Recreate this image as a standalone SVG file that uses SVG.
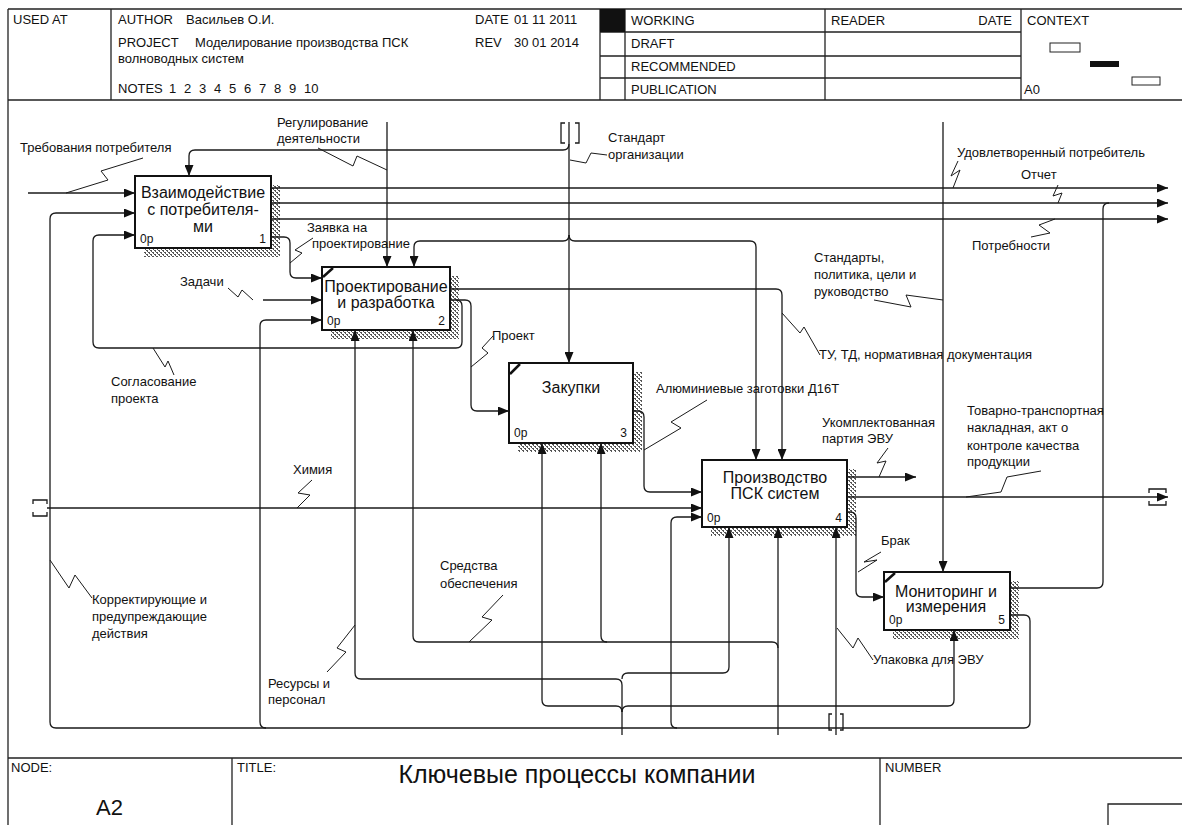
<svg xmlns="http://www.w3.org/2000/svg" width="1182" height="825" viewBox="0 0 1182 825">
<style>
text{font-family:"Liberation Sans",Arial,sans-serif;fill:#111}
.hd{font-size:13px}
.ft{font-size:13px}
.lbl{font-size:13px}
.bt{font-size:16px;text-anchor:middle}
.bt1{font-size:16px;text-anchor:middle}
.num{font-size:12px}
.fr{fill:none;stroke:#222;stroke-width:1.3}
.box{fill:#fff;stroke:#111;stroke-width:2}
.sh{fill:url(#hatch)}
.diag{stroke:#111;stroke-width:2.5}
.c{fill:none;stroke:#1a1a1a;stroke-width:1.3}
.a{marker-end:url(#ah)}
.sq{fill:none;stroke:#1a1a1a;stroke-width:1}
.tn{fill:none;stroke:#1a1a1a;stroke-width:1.3}
</style>
<defs>
<marker id="ah" markerWidth="12" markerHeight="9" refX="11" refY="4.5" orient="auto" markerUnits="userSpaceOnUse"><path d="M0,0 L11,4.5 L0,9 z" fill="#111"/></marker>
<pattern id="hatch" width="4" height="4" patternUnits="userSpaceOnUse"><rect width="4" height="4" fill="#fff"/><path d="M0,0h2v1h-2zM2,2h2v1h-2zM1,1h1v1h-1zM3,3h1v1h-1z" fill="#555"/></pattern>
</defs>
<rect width="1182" height="825" fill="#fff"/>

<g id="frame">
<path class="fr" d="M8,9 H1182 M8,9 V825 M8,100 H1182 M111,9 V100 M600,9 V100 M625,9 V100 M825,9 V100 M1021,9 V100 M600,32 H1021 M600,56 H1021 M600,78 H1021"/>
<rect x="600" y="9" width="25" height="23" fill="#111"/>
<rect x="1050" y="43" width="30" height="9" fill="#fff" stroke="#222" stroke-width="1"/>
<rect x="1090" y="61" width="29" height="6" fill="#111"/>
<rect x="1132" y="77" width="28" height="8" fill="#fff" stroke="#222" stroke-width="1"/>
<text class="hd" x="13" y="24">USED AT</text>
<text class="hd" x="118" y="24">AUTHOR</text>
<text class="hd" x="186" y="24">Васильев О.И.</text>
<text class="hd" x="475" y="24">DATE</text>
<text class="hd" x="514" y="24">01 11 2011</text>
<text class="hd" x="118" y="47">PROJECT</text>
<text class="hd" x="195" y="47">Моделирование производства ПСК</text>
<text class="hd" x="475" y="47">REV</text>
<text class="hd" x="514" y="47">30 01 2014</text>
<text class="hd" x="118" y="63">волноводных систем</text>
<text class="hd" x="118" y="93">NOTES</text>
<text class="hd" y="93"><tspan x="169">1</tspan><tspan x="184">2</tspan><tspan x="199">3</tspan><tspan x="214">4</tspan><tspan x="229">5</tspan><tspan x="244">6</tspan><tspan x="259">7</tspan><tspan x="274">8</tspan><tspan x="289">9</tspan><tspan x="304">10</tspan></text>
<text class="hd" x="631" y="25">WORKING</text>
<text class="hd" x="631" y="48">DRAFT</text>
<text class="hd" x="631" y="71">RECOMMENDED</text>
<text class="hd" x="631" y="94">PUBLICATION</text>
<text class="hd" x="831" y="25">READER</text>
<text class="hd" x="1012" y="25" text-anchor="end">DATE</text>
<text class="hd" x="1027" y="25">CONTEXT</text>
<text class="hd" x="1024" y="94">A0</text>
<path class="fr" d="M8,758 H1182 M232,758 V825 M880,758 V825 M1108,825 V804 H1182"/>
<text class="ft" x="11" y="772">NODE:</text>
<text class="ft" x="237" y="772">TITLE:</text>
<text class="ft" x="885" y="772">NUMBER</text>
<text x="577" y="783" font-size="25" text-anchor="middle">Ключевые процессы компании</text>
<text x="96" y="815" font-size="22">A2</text>
</g>

<g id="node1">
<rect class="sh" x="144" y="185" width="136" height="72"/>
<rect class="box" x="135" y="176" width="136" height="72"/>
<text class="bt1" x="203" y="198">Взаимодействие</text>
<text class="bt1" x="203" y="215">с потребителя-</text>
<text class="bt1" x="203" y="232">ми</text>
<text class="num" x="140" y="243">0p</text>
<text class="num" x="266" y="243" text-anchor="end">1</text>
</g>
<g id="node2">
<rect class="sh" x="331" y="276" width="128" height="63"/>
<rect class="box" x="322" y="267" width="128" height="63"/>
<line class="diag" x1="323" y1="277" x2="333" y2="268"/>
<text class="bt" x="386" y="292">Проектирование</text>
<text class="bt" x="386" y="308">и разработка</text>
<text class="num" x="327" y="325">0p</text>
<text class="num" x="445" y="325" text-anchor="end">2</text>
</g>
<g id="node3">
<rect class="sh" x="518" y="372" width="124" height="80"/>
<rect class="box" x="509" y="363" width="124" height="80"/>
<line class="diag" x1="510" y1="374" x2="520" y2="364"/>
<text class="bt" x="571" y="393">Закупки</text>
<text class="num" x="514" y="437">0p</text>
<text class="num" x="627" y="437" text-anchor="end">3</text>
</g>
<g id="node4">
<rect class="sh" x="711" y="469" width="145" height="67"/>
<rect class="box" x="702" y="460" width="145" height="67"/>
<text class="bt" x="775" y="483">Производство</text>
<text class="bt" x="775" y="499">ПСК систем</text>
<text class="num" x="707" y="522">0p</text>
<text class="num" x="842" y="522" text-anchor="end">4</text>
</g>
<g id="node5">
<rect class="sh" x="893" y="581" width="126" height="58"/>
<rect class="box" x="884" y="572" width="126" height="58"/>
<line class="diag" x1="885" y1="582" x2="895" y2="573"/>
<text class="bt" x="946" y="597">Мониторинг и</text>
<text class="bt" x="946" y="612">измерения</text>
<text class="num" x="889" y="624">0p</text>
<text class="num" x="1005" y="624" text-anchor="end">5</text>
</g>

<g id="connectors">
<path class="c a" d="M28,193 H135"/>
<path class="c a" d="M569,144 Q569,150 563,150 H195 Q189,150 189,156 V176"/>
<path class="c a" d="M569,122 V363"/>
<path class="c a" d="M569,235 Q569,241 563,241 H420 Q414,241 414,247 V267"/>
<path class="c a" d="M569,235 Q569,241 575,241 H750 Q756,241 756,247 V460"/>
<path class="c a" d="M387,122 V267"/>
<path class="c a" d="M271,188 H1168"/>
<path class="c a" d="M271,203 H1168"/>
<path class="c a" d="M271,219 H1168"/>
<path class="c" d="M1010,588 H1097 Q1103,588 1103,582 V209 Q1103,203 1109,203"/>
<path class="c a" d="M271,237 H284 Q290,237 290,243 V272 Q290,278 296,278 H322"/>
<path class="c a" d="M263,300 H322"/>
<path class="c a" d="M450,300 H465 Q471,300 471,306 V405 Q471,411 477,411 H509"/>
<path class="c a" d="M456,300 Q462,300 462,306 V342 Q462,348 456,348 H99 Q93,348 93,342 V241 Q93,235 99,235 H135"/>
<path class="c a" d="M1010,615 H1024 Q1030,615 1030,621 V722 Q1030,728 1024,728 H56 Q50,728 50,722 V219 Q50,213 56,213 H135"/>
<path class="c a" d="M266,728 Q260,728 260,722 V326 Q260,320 266,320 H322"/>
<path class="c a" d="M677,728 Q671,728 671,722 V523 Q671,517 677,517 H702"/>
<path class="c a" d="M47,508 H702"/>
<path class="c a" d="M633,411 H638 Q644,411 644,417 V486 Q644,492 650,492 H702"/>
<path class="c a" d="M450,289 H776 Q782,289 782,295 V460"/>
<path class="c a" d="M847,477 H916"/>
<path class="c a" d="M847,497 H1168"/>
<path class="c a" d="M847,512 H850 Q856,512 856,518 V591 Q856,597 862,597 H884"/>
<path class="c a" d="M943,122 V572"/>
<path class="c a" d="M622,735 V685 Q622,679 616,679 H361 Q355,679 355,673 V330"/>
<path class="c a" d="M622,679 Q622,673 628,673 H723 Q729,673 729,667 V527"/>
<path class="c a" d="M622,712 Q622,706 616,706 H548 Q542,706 542,700 V443"/>
<path class="c a" d="M622,712 Q622,706 628,706 H948 Q954,706 954,700 V630"/>
<path class="c a" d="M778,735 V527"/>
<path class="c a" d="M778,648 Q778,642 772,642 H419 Q413,642 413,636 V330"/>
<path class="c a" d="M607,642 Q601,642 601,636 V443"/>
<path class="c a" d="M836,735 V527"/>
<path class="tn" d="M565,123 H561 V143 H565 M575,123 H579 V143 H575"/>
<path class="tn" d="M832,714 H829 V730 H832 M840,714 H843 V730 H840"/>
<path class="tn" d="M33,504 V500 H47 V504 M33,512 V516 H47 V512"/>
<path class="tn" d="M1149,493 V489 H1166 V493 M1149,501 V505 H1166 V501"/>
</g>

<g id="labels">
<text class="lbl" x="20" y="152">Требования потребителя</text>
<polyline class="sq" points="66,193 108,180 101,171 143,158"/>
<text class="lbl" x="277" y="127">Регулирование</text>
<text class="lbl" x="277" y="143">деятельности</text>
<polyline class="sq" points="318,148 353,166 357,156 387,170"/>
<text class="lbl" x="608" y="142">Стандарт</text>
<text class="lbl" x="608" y="159">организации</text>
<polyline class="sq" points="570,160 586,163 591,153 607,155"/>
<text class="lbl" x="957" y="157">Удовлетворенный потребитель</text>
<polyline class="sq" points="958,161 951,176 960,170 953,188"/>
<text class="lbl" x="1021" y="179">Отчет</text>
<polyline class="sq" points="1058,185 1053,196 1062,193 1058,203"/>
<text class="lbl" x="972" y="250">Потребности</text>
<polyline class="sq" points="1055,219 1039,225 1050,233 1031,237"/>
<text class="lbl" x="307" y="232">Заявка на</text>
<text class="lbl" x="312" y="248">проектирование</text>
<polyline class="sq" points="313,238 295,250 302,253 290,263"/>
<text class="lbl" x="180" y="286">Задачи</text>
<polyline class="sq" points="228,288 238,297 242,290 253,300"/>
<text class="lbl" x="814" y="262">Стандарты,</text>
<text class="lbl" x="814" y="279">политика, цели и</text>
<text class="lbl" x="814" y="296">руководство</text>
<polyline class="sq" points="874,300 911,307 906,295 943,300"/>
<text class="lbl" x="492" y="340">Проект</text>
<polyline class="sq" points="493,336 482,348 488,353 471,367"/>
<text class="lbl" x="819" y="359">ТУ, ТД, нормативная документация</text>
<polyline class="sq" points="782,313 800,333 804,327 820,355"/>
<text class="lbl" x="111" y="386">Согласование</text>
<text class="lbl" x="111" y="403">проекта</text>
<polyline class="sq" points="153,348 165,367 168,361 174,375"/>
<text class="lbl" x="656" y="393">Алюминиевые заготовки Д16Т</text>
<polyline class="sq" points="707,400 671,422 681,428 644,450"/>
<text class="lbl" x="822" y="427">Укомплектованная</text>
<text class="lbl" x="822" y="443">партия ЭВУ</text>
<polyline class="sq" points="888,448 877,463 886,461 879,477"/>
<text class="lbl" x="967" y="415">Товарно-транспортная</text>
<text class="lbl" x="967" y="432">накладная, акт о</text>
<text class="lbl" x="967" y="450">контроле качества</text>
<text class="lbl" x="967" y="466">продукции</text>
<polyline class="sq" points="1041,471 1007,477 1001,492 966,497"/>
<text class="lbl" x="293" y="474">Химия</text>
<polyline class="sq" points="312,480 298,493 310,495 297,508"/>
<text class="lbl" x="881" y="545">Брак</text>
<polyline class="sq" points="881,552 864,562 877,560 858,572"/>
<text class="lbl" x="440" y="570">Средства</text>
<text class="lbl" x="440" y="588">обеспечения</text>
<polyline class="sq" points="503,595 482,617 492,620 469,642"/>
<text class="lbl" x="92" y="604">Корректирующие и</text>
<text class="lbl" x="92" y="621">предупреждающие</text>
<text class="lbl" x="92" y="638">действия</text>
<polyline class="sq" points="50,560 69,588 75,575 92,598"/>
<text class="lbl" x="268" y="688">Ресурсы и</text>
<text class="lbl" x="268" y="704">персонал</text>
<polyline class="sq" points="327,672 346,652 337,648 355,625"/>
<text class="lbl" x="873" y="664">Упаковка для ЭВУ</text>
<polyline class="sq" points="837,628 853,648 858,638 873,660"/>
</g>
</svg>
